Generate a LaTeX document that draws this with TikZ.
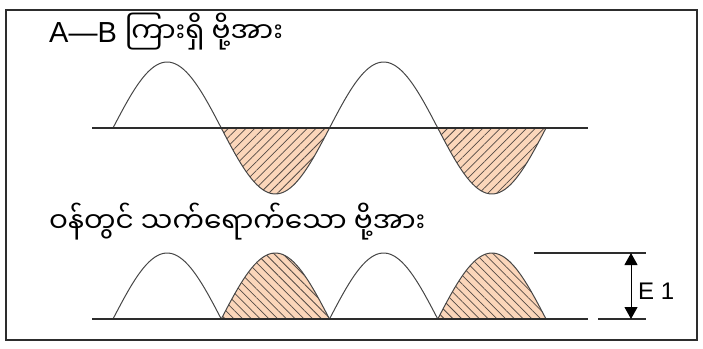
\documentclass[tikz,border=0pt]{standalone}
\usepackage{fontspec}
\setsansfont{Liberation Sans}
\newfontfamily\mmfont[Script=Myanmar]{Noto Sans Myanmar UI}
\usetikzlibrary{arrows.meta,patterns.meta}
\definecolor{framegray}{RGB}{45,45,45}
\definecolor{wavegray}{RGB}{70,70,70}
\definecolor{peach}{RGB}{251,214,186}
\definecolor{hatchgray}{RGB}{85,75,70}

\begin{document}
\begin{tikzpicture}[x=1pt,y=-1pt,font=\sffamily,
  axisline/.style={draw=framegray,line width=1.5pt},
  wave/.style={draw=wavegray,line width=1pt},
  negpart/.style={preaction={fill=peach},pattern color=hatchgray,
                  pattern={Lines[angle=45,distance=6.2pt,line width=0.75pt]}},
  rectpart/.style={preaction={fill=peach},pattern color=hatchgray,
                  pattern={Lines[angle=-45,distance=6.2pt,line width=0.75pt]}},
  lbl/.style={anchor=base west,inner sep=0pt},
  arr/.style={{Triangle[length=12pt,width=13pt]}-{Triangle[length=12pt,width=13pt]},
              draw=black,line width=1pt}]
  \useasboundingbox (0,0) rectangle (703,348);
  \draw[framegray,line width=1.5pt] (6,10) rectangle (697,340);

  % voltage between A and B
  \node[lbl] (toplabel) at (49,42)
    {\fontsize{29}{29}\selectfont A—B \mmfont\fontsize{28}{28}\selectfont ကြားရှိ ဗို့အား};
  \foreach \a/\b in {1/2,3/4}
    \path[negpart] plot[domain=\a:\b,samples=40] ({113+108.25*\x},{128-66*sin(180*\x)}) -- cycle;
  \draw[wave] plot[domain=0:4,samples=160] ({113+108.25*\x},{128-66*sin(180*\x)});
  \draw[axisline] (92,128) -- (588,128);

  % voltage on the load
  \node[lbl] (loadlabel) at (49,232)
    {\mmfont\fontsize{28}{28}\selectfont ဝန်တွင် သက်ရောက်သော ဗို့အား};
  \foreach \a/\b in {1/2,3/4}
    \path[rectpart] plot[domain=\a:\b,samples=40] ({113+108.25*\x},{319+66*sin(180*\x)}) -- cycle;
  \foreach \a/\b in {0/1,1/2,2/3,3/4}
    \draw[wave] plot[domain=\a:\b,samples=40] ({113+108.25*\x},{319-66*abs(sin(180*\x))});
  \draw[axisline] (92,319) -- (588,319);

  % peak value E1
  \coordinate (etop) at (631,253);
  \coordinate (ebot) at (631,319);
  \draw[axisline] (534,253) -- (646,253);
  \draw[axisline] (598,319) -- (646,319);
  \draw[arr] (etop) -- (ebot);
  \node[anchor=west,inner sep=0pt,font=\sffamily\fontsize{24}{24}\selectfont] (elabel) at (638,291) {E 1};
\end{tikzpicture}
\end{document}
